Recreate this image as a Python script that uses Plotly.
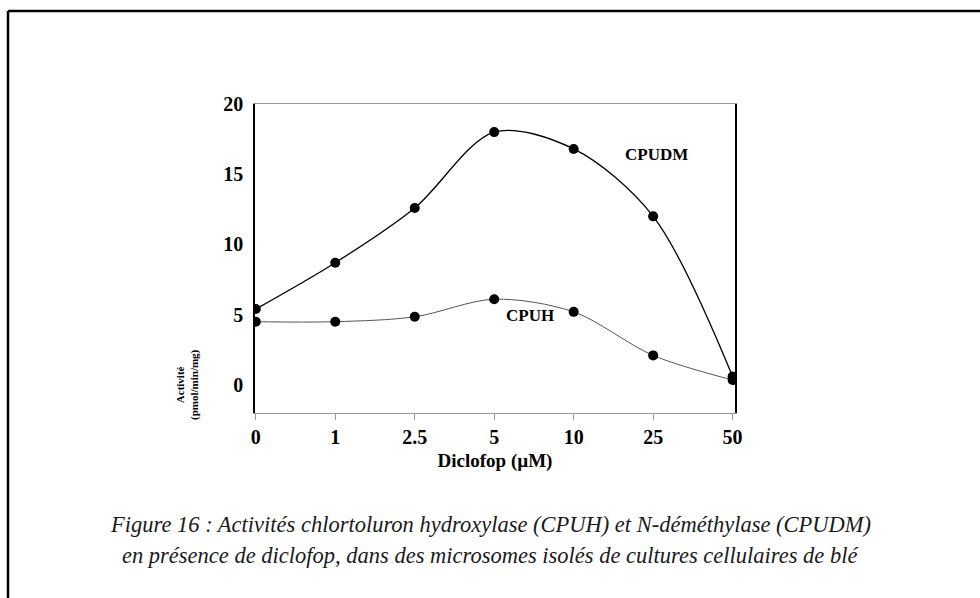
import plotly.graph_objects as go

# Diclofop concentrations (µM) and microsomal activities
concentrations = ["0", "1", "2.5", "5", "10", "25", "50"]
cpudm = [5.4, 8.7, 12.6, 18.0, 16.8, 12.0, 0.6]
cpuh = [4.5, 4.5, 4.85, 6.1, 5.2, 2.1, 0.35]
y_ticks = [0, 5, 10, 15, 20]

caption_lines = [
    "Figure 16 : Activités chlortoluron hydroxylase (CPUH) et N-déméthylase (CPUDM)",
    "en présence de diclofop, dans des microsomes isolés de cultures cellulaires de blé",
]

W, H = 980, 598
ML, MR, MT, MB = 255, 245, 104, 185
PW, PH = W - ML - MR, H - MT - MB


def px(x):
    return (x - ML) / PW


def py(y):
    return (H - MB - y) / PH


serif = "Liberation Serif, Times New Roman, serif"

fig = go.Figure()

fig.add_trace(go.Scatter(
    x=concentrations, y=cpudm, mode="lines+markers", name="CPUDM",
    line=dict(color="black", width=1.3, shape="spline", smoothing=0.9),
    marker=dict(color="black", size=10),
))
fig.add_trace(go.Scatter(
    x=concentrations, y=cpuh, mode="lines+markers", name="CPUH",
    line=dict(color="#555555", width=1, shape="spline", smoothing=0.9),
    marker=dict(color="black", size=10),
))

fig.update_layout(
    width=W, height=H,
    margin=dict(l=ML, r=MR, t=MT, b=MB),
    paper_bgcolor="white", plot_bgcolor="white",
    showlegend=False,
    font=dict(family=serif, color="black"),
)

fig.update_xaxes(
    type="category", range=[-0.01, 6.03],
    showgrid=False, zeroline=False,
    showline=True, linecolor="#9a9a9a", linewidth=1.2, mirror=True,
    ticks="outside", ticklen=6, tickcolor="#9a9a9a",
    tickfont=dict(family=serif, size=20, color="black", weight="bold"),
    title=dict(text="<b>Diclofop (µM)</b>", font=dict(family=serif, size=19), standoff=6),
)
fig.update_yaxes(
    range=[-2, 20], tickvals=y_ticks,
    showgrid=False, zeroline=False,
    showline=True, linecolor="black", linewidth=1.5, mirror=True,
    ticks="", ticklabelstandoff=6,
    tickfont=dict(family=serif, size=20, color="black", weight="bold"),
)

annotations = [
    dict(x=px(690), y=py(143), xref="paper", yref="paper", text="<b>CPUDM</b>",
         showarrow=False, font=dict(family=serif, size=17)),
    dict(x=px(530), y=py(327), xref="paper", yref="paper", text="<b>CPUH</b>",
         showarrow=False, font=dict(family=serif, size=17)),
    dict(x=px(172), y=py(422), xref="paper", yref="paper",
         text="<b>Activité<br>(pmol/min/mg)</b>", textangle=-90,
         showarrow=False, font=dict(family=serif, size=11)),
]
for i, line in enumerate(caption_lines):
    annotations.append(dict(
        x=px(490), y=py(524 + 31 * i), xref="paper", yref="paper",
        xanchor="center", yanchor="middle",
        text=f"<i>{line}</i>", showarrow=False,
        font=dict(family=serif, size=22.5, color="#1a1a1a"),
    ))
fig.update_layout(annotations=annotations)

# Frame around the figure
fig.add_shape(type="line", xref="paper", yref="paper",
              x0=px(8), x1=px(W + 5), y0=py(11), y1=py(11),
              line=dict(color="black", width=2.5))
fig.add_shape(type="line", xref="paper", yref="paper",
              x0=px(8), x1=px(8), y0=py(11), y1=py(H + 5),
              line=dict(color="black", width=2.5))

fig.write_html("out.html")
